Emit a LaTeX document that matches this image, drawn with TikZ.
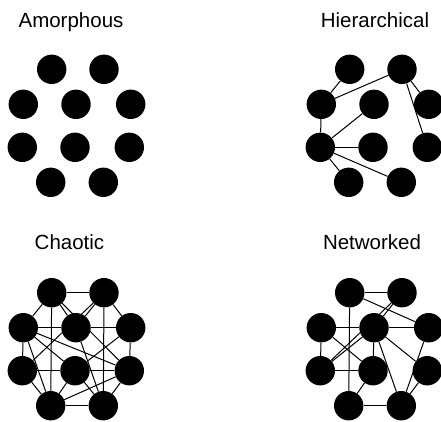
\documentclass[tikz,border=0pt]{standalone}
\usepackage{fontspec}
\setmainfont{Liberation Sans}
\usetikzlibrary{backgrounds}
\tikzset{
  ball/.style={circle,fill=black,inner sep=0pt,minimum size=29.4pt},
  link/.style={line width=1pt,draw=black},
  title/.style={font=\fontsize{20.5}{24}\selectfont,anchor=base}
}
\newcommand{\placeballs}{%
  \foreach \n/\x/\y in {a1/51.7/69.3,a2/104/69.3,b1/23.3/104.3,b2/76/104.3,b3/130.7/104.3,
    c1/22.3/147.3,c2/75/147.3,c3/129.3/147.3,d1/50.7/182.3,d2/103.3/182.3}
    \node[ball] (\n) at (\x,\y) {};}

\begin{document}
\begin{tikzpicture}[x=1pt,y=-1pt]
  \useasboundingbox (0,0) rectangle (441,421);
  \clip (0,0) rectangle (441,421);
  \node[title] (tAm) at (71,27) {Amorphous};
  \node[title] (tHi) at (375,27) {Hierarchical};
  \node[title] (tCh) at (69.5,249) {Chaotic};
  \node[title] (tNw) at (372,249) {Networked};
  % amorphous
  \begin{scope}[name prefix=am-]
    \placeballs
  \end{scope}
  % hierarchical
  \begin{scope}[shift={(298,0)},name prefix=hi-]
    \placeballs
    \begin{scope}[on background layer]
      \draw[link] (a1)--(b1);\draw[link] (b1)--(a2);\draw[link] (b1)--(c1);
      \draw[link] (c1)--(b2);\draw[link] (c1)--(c2);\draw[link] (c1)--(d1);
      \draw[link] (c1)--(d2);\draw[link] (a2)--(b3);\draw[link] (a2)--(c3);
    \end{scope}
  \end{scope}
  % chaotic
  \begin{scope}[shift={(0,223.4)},name prefix=ch-]
    \placeballs
    \begin{scope}[on background layer]
      \draw[link] (a1)--(a2);\draw[link] (a1)--(b1);\draw[link] (a1)--(b2);
      \draw[link] (a1)--(c3);\draw[link] (a1)--(d1);\draw[link] (a2)--(b2);
      \draw[link] (a2)--(c1);\draw[link] (a2)--(b3);\draw[link] (a2)--(d2);
      \draw[link] (b1)--(b2);\draw[link] (b2)--(b3);\draw[link] (b1)--(c1);
      \draw[link] (b3)--(c3);\draw[link] (b1)--(c3);\draw[link] (b1)--(c2);
      \draw[link] (b1)--(d1);\draw[link] (b3)--(c2);\draw[link] (b2)--(d2);
      \draw[link] (c1)--(c2);\draw[link] (c2)--(c3);\draw[link] (c1)--(d1);
      \draw[link] (c2)--(d1);\draw[link] (c2)--(d2);\draw[link] (c3)--(d1);
      \draw[link] (c3)--(d2);\draw[link] (d1)--(d2);
    \end{scope}
  \end{scope}
  % networked
  \begin{scope}[shift={(298,223.4)},name prefix=nw-]
    \placeballs
    \begin{scope}[on background layer]
      \draw[link] (a1)--(a2);\draw[link] (a1)--(d1);\draw[link] (a1)--(b3);
      \draw[link] (a2)--(b2);\draw[link] (a2)--(c1);\draw[link] (b2)--(c1);
      \draw[link] (b1)--(b2);\draw[link] (b2)--(b3);\draw[link] (b1)--(c1);
      \draw[link] (b1)--(c2);\draw[link] (b2)--(c2);\draw[link] (b2)--(d2);
      \draw[link] (b2)--(c3);\draw[link] (b3)--(d2);\draw[link] (c3)--(d2);
      \draw[link] (c1)--(c2);\draw[link] (c2)--(d1);\draw[link] (d1)--(d2);
    \end{scope}
  \end{scope}
\end{tikzpicture}
\end{document}
